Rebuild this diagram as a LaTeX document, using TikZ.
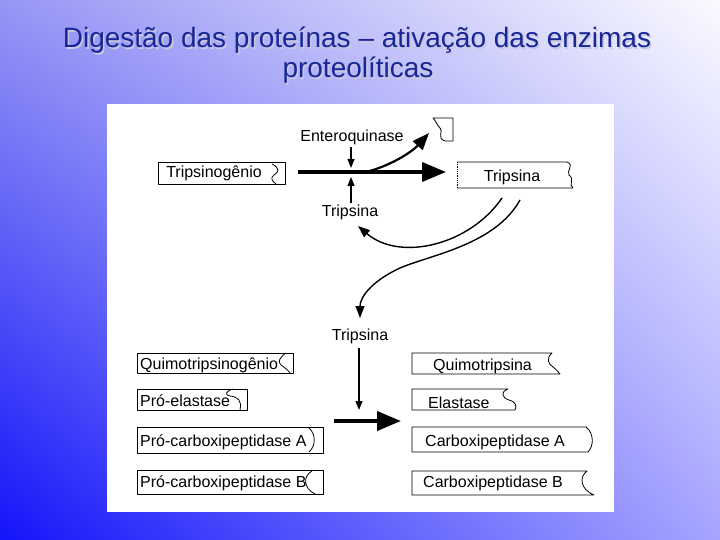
\documentclass[tikz,border=0pt]{standalone}
\usepackage{fontspec}
\setmainfont{Liberation Sans}
\usetikzlibrary{arrows.meta,shadings}
\definecolor{bgUL}{RGB}{150,150,245}
\definecolor{bgUR}{RGB}{250,250,255}
\definecolor{bgLL}{RGB}{20,20,250}
\definecolor{bgLR}{RGB}{165,165,255}
\definecolor{titleblue}{RGB}{25,38,150}
\definecolor{titleshadow}{RGB}{200,200,225}
\begin{document}
\begin{tikzpicture}[x=1pt,y=-1pt,
  lbl/.style={font=\fontsize{16}{16}\selectfont, inner sep=0pt, anchor=base},
  lblw/.style={lbl, anchor=base west},
  titletext/.style={font=\fontsize{28}{28}\selectfont, inner sep=0pt, anchor=base, text=titleblue},
  titleshade/.style={titletext, text=titleshadow},
  box/.style={line width=0.8pt, line join=round},
  thinarrow/.style={line width=1.1pt, -{Triangle[length=9pt,width=7pt]}},
  bigarrow/.style={line width=3.8pt, -{Triangle[length=24pt,width=19pt]}},
  curvearrow/.style={line width=1.4pt, -{Triangle[length=12pt,width=9pt]}},
  pieceline/.style={line width=2.2pt, -{Triangle[length=17pt,width=13pt]}}]
\useasboundingbox (0,0) rectangle (720,540);
% background
\shade[upper left=bgUL, upper right=bgUR, lower left=bgLL, lower right=bgLR] (0,0) rectangle (720,540);
% title
\node[titleshade] (t1s) at (358.5,49.5) {Digestão das proteínas – ativação das enzimas};
\node[titleshade] (t2s) at (359.5,79.5) {proteolíticas};
\node[titletext] (t1) at (357,48) {Digestão das proteínas – ativação das enzimas};
\node[titletext] (t2) at (358,78) {proteolíticas};
% white panel
\fill[white] (107,104) rectangle (614,512);

% --- top row ---
\draw[box] (158,162) rectangle (285,184);
\draw[box] (272,164) .. controls (280,168) and (279,172) .. (274,175) .. controls (270,178) and (272,181) .. (276,184);
\node[lbl] (tgen) at (214,178) {Tripsinogênio};

\draw[box, densely dotted] (457,162) -- (457,188);
\draw[box] (457,162) -- (567,162) .. controls (575,165) and (566,171) .. (569,175) .. controls (575,179) and (568,185) .. (573,188) -- (457,188);
\node[lbl] (trip) at (512,182) {Tripsina};

% cut peptide
\draw[box] (433,118) -- (453,118) -- (453,141) -- (445,141) .. controls (436,138) and (444,131) .. (440,128) .. controls (437,125) and (436,121) .. (433,118);
\coordinate (pep) at (429,133);

\coordinate (hA) at (298,172);
\coordinate (hB) at (446,172);
\draw[bigarrow] (hA) -- (hB);
\coordinate (br) at (366,172);
\draw[pieceline] (br) .. controls (390,166) and (412,152) .. (pep);

\node[lbl] (entero) at (352,142) {Enteroquinase};
\draw[thinarrow] (351,147) -- (351,168);
\node[lbl] (trl1) at (350,216) {Tripsina};
\draw[thinarrow] (351,203) -- (351,177);

% curved arrows from Tripsina
\coordinate (c1s) at (502,198);
\coordinate (c1e) at (358,226);
\draw[curvearrow] (c1s) .. controls (470,245) and (400,262) .. (c1e);
\coordinate (c2s) at (520,200);
\coordinate (c2m) at (400,268);
\coordinate (c2e) at (360,318);
\draw[curvearrow] (c2s) .. controls (495,245) and (430,255) .. (c2m) .. controls (370,282) and (360,298) .. (c2e);

% --- lower part ---
\node[lbl] (trl2) at (360,340) {Tripsina};
\draw[thinarrow, line width=1.3pt] (359,348) -- (359,410);
\draw[bigarrow] (334,421) -- (401,421);

% precursors
\draw[box] (137,353) rectangle (293,373);
\draw[box] (286,353) .. controls (280,357) and (277,362) .. (281,365) .. controls (285,368) and (288,370) .. (290,373);
\node[lblw] (qgen) at (140,369) {Quimotripsinogênio};

\draw[box] (137,389) rectangle (247,410);
\draw[box] (233,389) .. controls (226,391) and (224,395) .. (230,396) .. controls (238,397) and (242,400) .. (240,410);
\node[lblw] (pel) at (140,406) {Pró-elastase};

\draw[box] (137,427) rectangle (323,453);
\draw[box] (309,428) .. controls (316,434) and (316,446) .. (309,452);
\node[lblw] (pca) at (140,446) {Pró-carboxipeptidase A};

\draw[box] (137,470) rectangle (323,494);
\draw[box] (312,471) .. controls (303,476) and (303,488) .. (315,494);
\node[lblw] (pcb) at (140,487) {Pró-carboxipeptidase B};

% active enzymes
\draw[box] (412,353) -- (552,353) .. controls (546,358) and (548,364) .. (553,367) .. controls (557,370) and (558,372) .. (560,374) -- (412,374) -- cycle;
\node[lblw] (quim) at (433,370) {Quimotripsina};

\draw[box] (412,389) -- (508,389) .. controls (500,392) and (502,398) .. (509,400) .. controls (516,402) and (517,406) .. (515,410) -- (412,410) -- cycle;
\node[lblw] (ela) at (428,408) {Elastase};

\draw[box] (412,427) -- (586,427) .. controls (594,433) and (594,446) .. (588,452) -- (412,452) -- cycle;
\node[lblw] (ca) at (425,446) {Carboxipeptidase A};

\draw[box] (412,471) -- (587,471) .. controls (579,477) and (580,489) .. (594,495) -- (412,495) -- cycle;
\node[lblw] (cb) at (423,487) {Carboxipeptidase B};
\end{tikzpicture}
\end{document}
